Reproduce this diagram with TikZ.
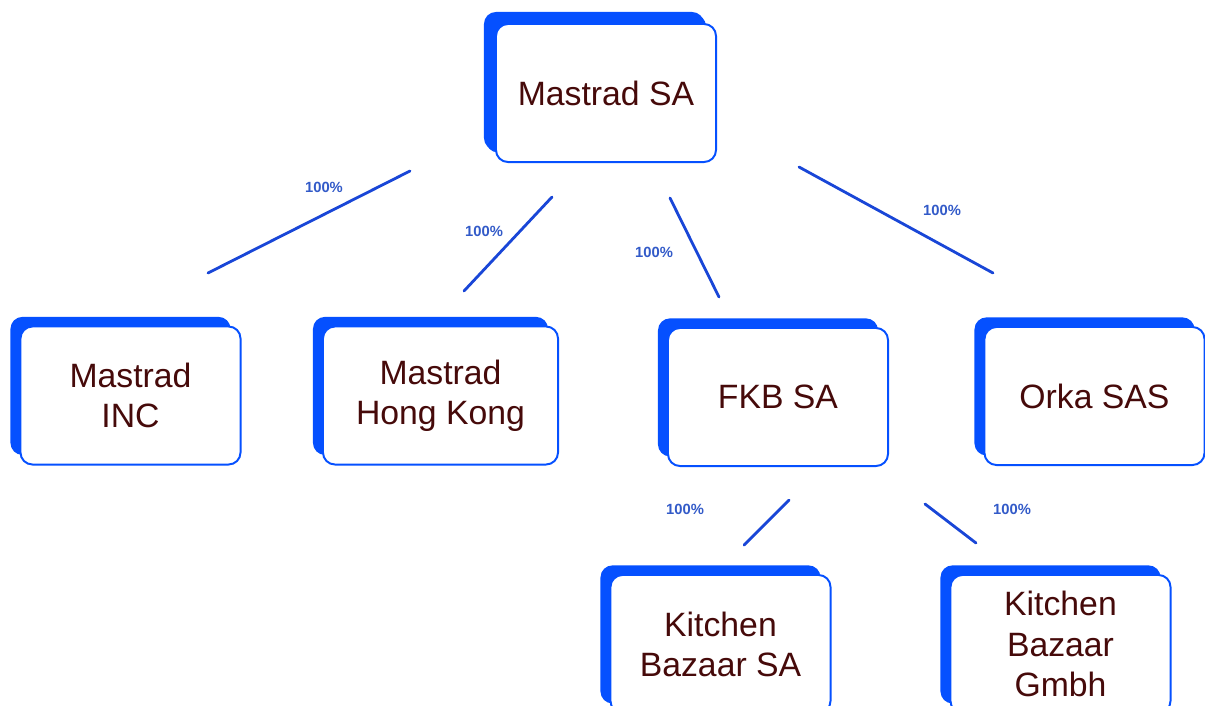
\documentclass[tikz,border=0pt]{standalone}
\usepackage{fontspec}
\newfontfamily\boxfont{Liberation Sans}
\usetikzlibrary{shadows}
\definecolor{boxblue}{RGB}{5,80,255}
\definecolor{linkblue}{RGB}{25,70,215}
\definecolor{pctblue}{RGB}{50,90,200}
\definecolor{boxtext}{RGB}{70,10,10}
\begin{document}
\begin{tikzpicture}[x=0.025cm,y=-0.025cm,line cap=round,line join=round,
  company/.style={draw=boxblue,line width=1.4pt,fill=white,rounded corners=0.3cm,
    minimum width=5.5cm,minimum height=3.45cm,align=center,text=boxtext,
    font=\boxfont\fontsize{24}{28.5}\selectfont,
    general shadow={fill=boxblue,shadow xshift=-0.25cm,shadow yshift=0.24cm}},
  link/.style={draw=linkblue,line width=2pt},
  share/.style={font=\boxfont\bfseries\fontsize{10.5}{12}\selectfont,text=pctblue}]
\path[use as bounding box] (0,0) rectangle (1205,705);
% companies
\node[company,general shadow={fill=boxblue,shadow xshift=-0.3cm,shadow yshift=0.3cm}] (mastrad) at (606,93) {Mastrad SA};
\node[company] (inc) at (130.5,395.5) {Mastrad\\INC};
\node[company,minimum width=5.875cm] (hk) at (440.5,395.5) {Mastrad\\Hong Kong};
\node[company] (fkb) at (778,397) {FKB SA};
\node[company] (orka) at (1094.5,396) {Orka SAS};
\node[company] (kbsa) at (720.5,644) {Kitchen\\Bazaar SA};
\node[company] (kbg) at (1060.5,644) {Kitchen\\Bazaar\\Gmbh};
% link ends
\coordinate (inc-a) at (410,171);  \coordinate (inc-b) at (208,273);
\coordinate (hk-a) at (552,197);   \coordinate (hk-b) at (464,291);
\coordinate (fkb-a) at (670,198);  \coordinate (fkb-b) at (719,297);
\coordinate (orka-a) at (799,167); \coordinate (orka-b) at (993,273);
\coordinate (kbsa-a) at (789,500); \coordinate (kbsa-b) at (744,545);
\coordinate (kbg-a) at (925,504);  \coordinate (kbg-b) at (976,543);
\draw[link] (inc-a) -- (inc-b);
\draw[link] (hk-a) -- (hk-b);
\draw[link] (fkb-a) -- (fkb-b);
\draw[link] (orka-a) -- (orka-b);
\draw[link] (kbsa-a) -- (kbsa-b);
\draw[link] (kbg-a) -- (kbg-b);
% shares
\node[share] (inc-pct) at (324,187) {100\%};
\node[share] (hk-pct) at (484,231) {100\%};
\node[share] (fkb-pct) at (654,252) {100\%};
\node[share] (orka-pct) at (942,210) {100\%};
\node[share] (kbsa-pct) at (685,509) {100\%};
\node[share] (kbg-pct) at (1012,509) {100\%};
\end{tikzpicture}
\end{document}
